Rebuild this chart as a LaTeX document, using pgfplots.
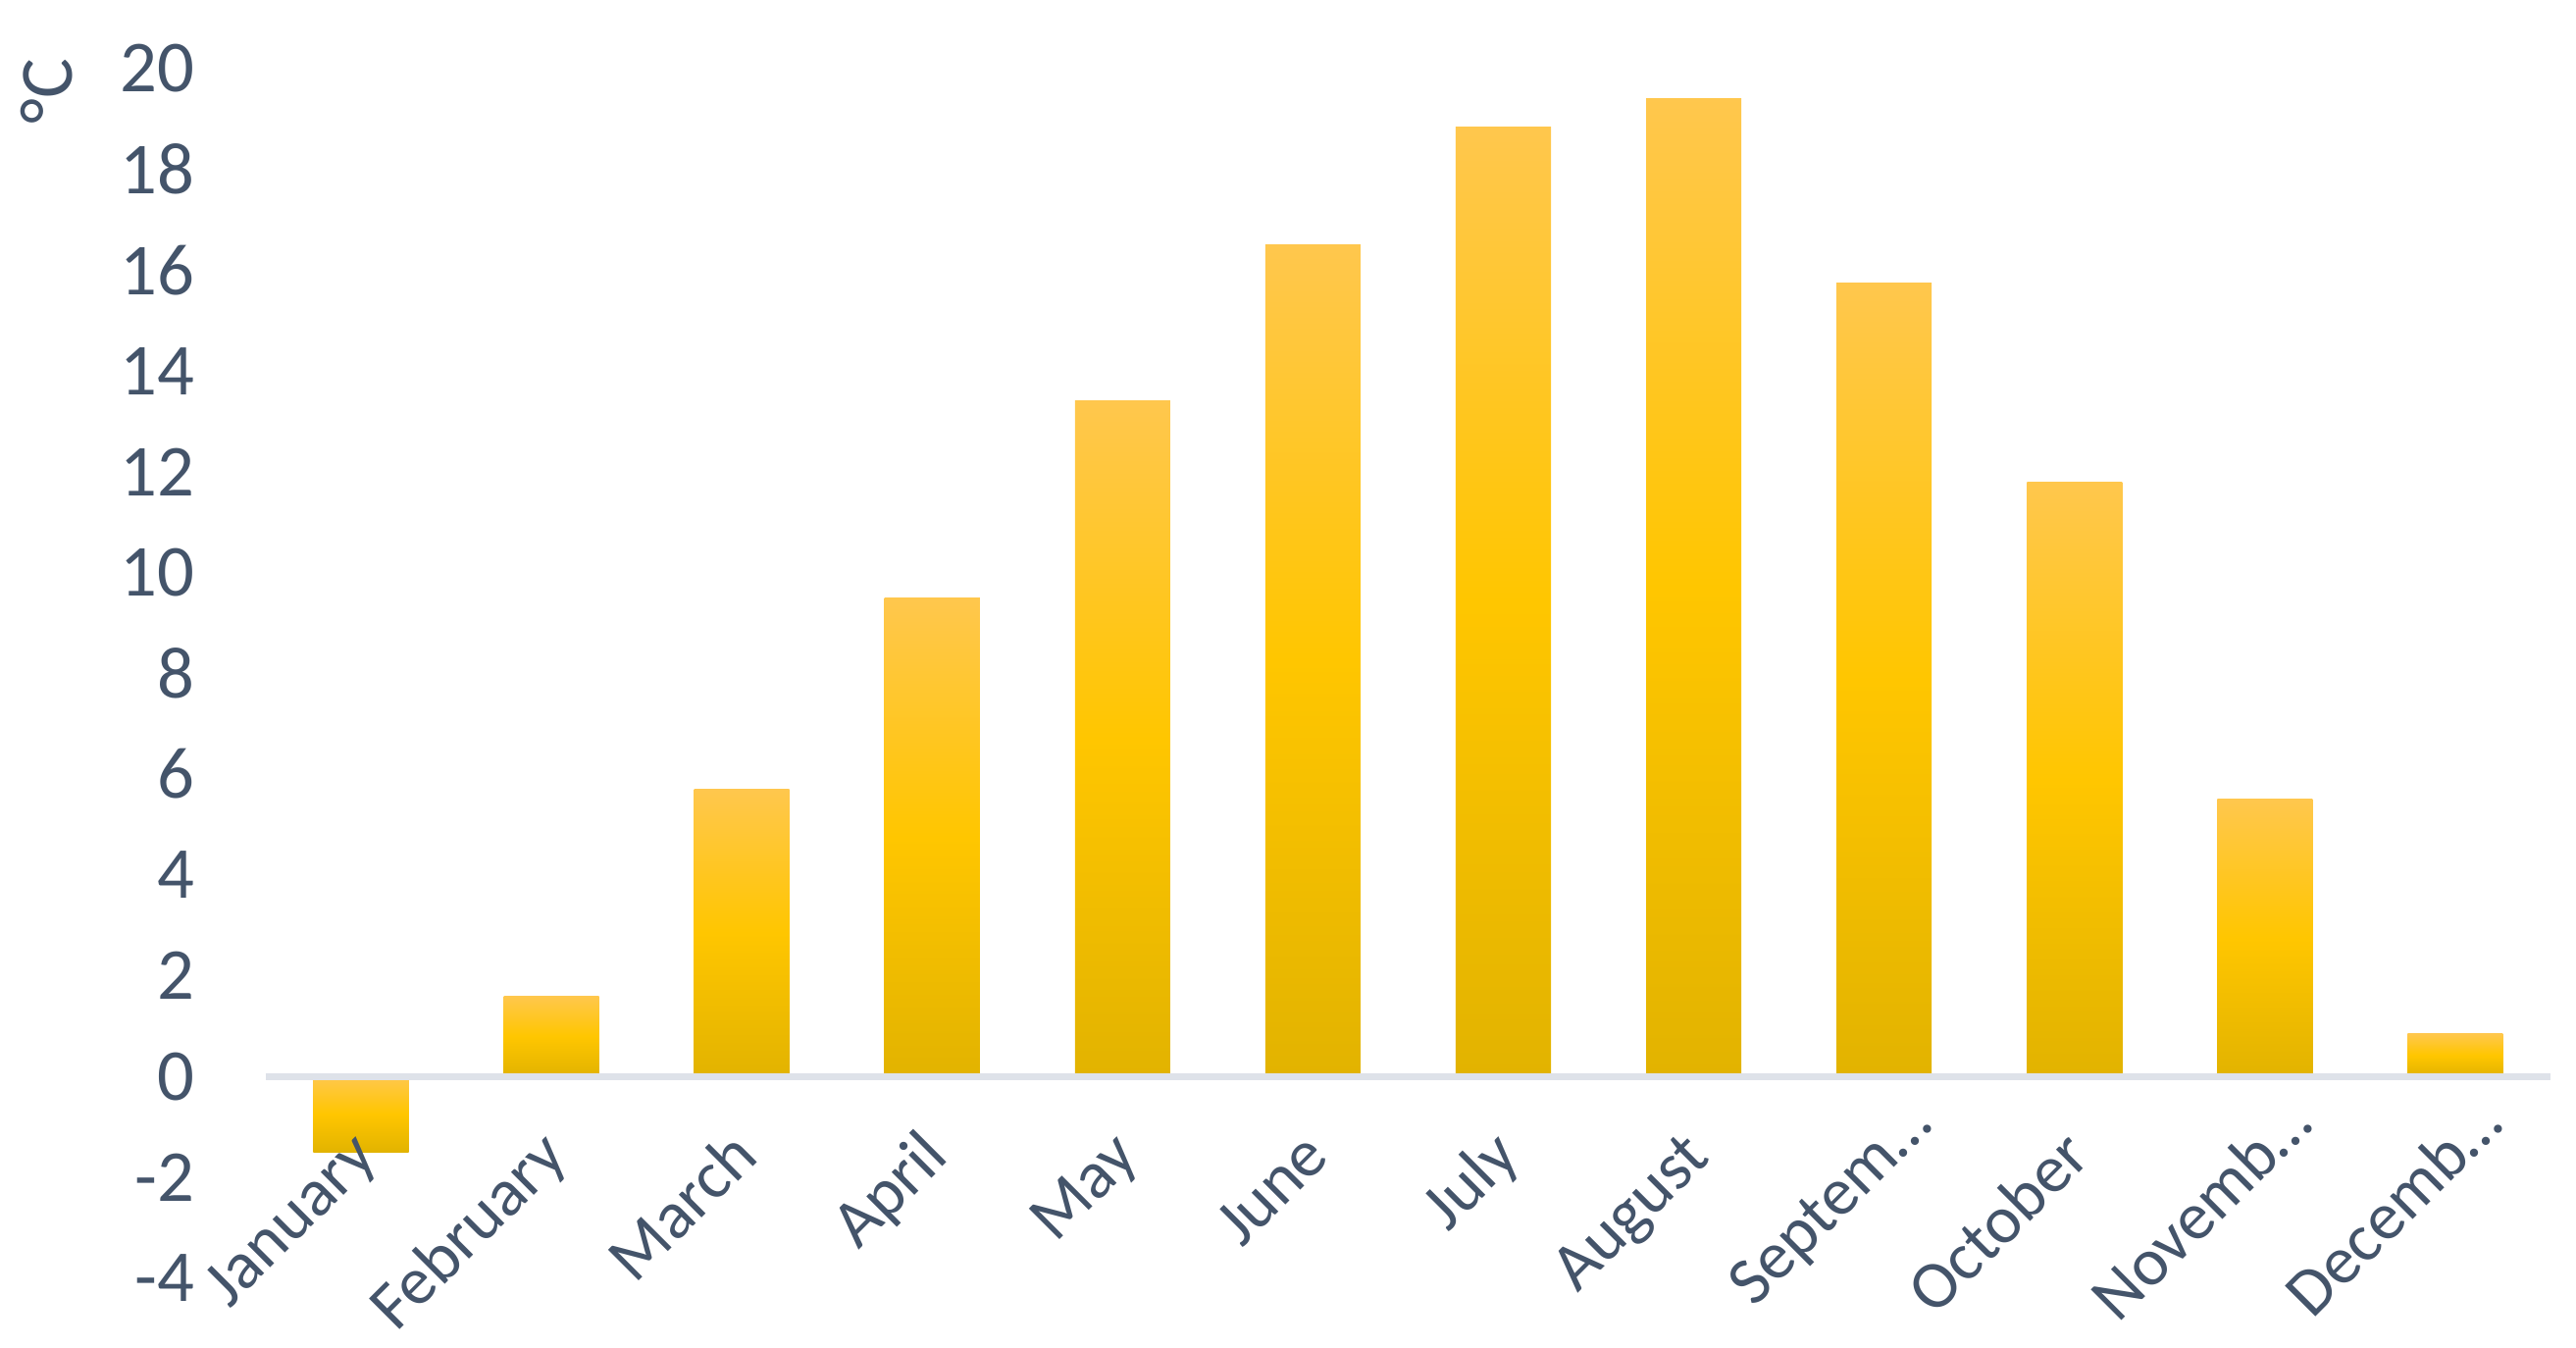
\documentclass[border=0pt]{standalone}
\usepackage{fontspec}
\setmainfont{Carlito}
\usepackage{pgfplots}
\pgfplotsset{compat=1.18}
\definecolor{txt}{HTML}{44546A}
\definecolor{zeroline}{HTML}{DEE2E9}
\definecolor{bartop}{HTML}{FFC74D}
\definecolor{barmid}{HTML}{FFC600}
\definecolor{barbot}{HTML}{E2B300}

% middle color has to come after top and bottom color
\pgfplotsset{
  monthbar/.style={ybar, bar width=0.5, bar shift=0pt, draw=none,
    top color=bartop, bottom color=barbot, middle color=barmid},
}

\begin{document}
\begin{tikzpicture}
\begin{axis}[
  scale only axis, width=359pt, height=190pt,
  xmin=-0.5, xmax=11.5, ymin=-4, ymax=20,
  axis x line*=middle, axis y line*=left,
  x axis line style={draw=zeroline, line width=1.1pt, -},
  y axis line style={draw=none},
  hide obscured x ticks=false, hide obscured y ticks=false,
  axis on top,
  xtick={0,...,11},
  xticklabels={January,February,March,April,May,June,July,August,
    Septem…\kern-7.2pt,October,Novemb…\kern-7.2pt,Decemb…\kern-7.2pt},
  ytick={-4,-2,...,20},
  yticklabels={-4,-2,0,2,4,6,8,10,12,14,16,18,20},
  major tick length=0pt,
  tick style={draw=none},
  every tick label/.append style={text=txt, inner sep=0pt},
  xticklabel style={font=\fontsize{10.6}{12}\selectfont,
    xshift=3pt, yshift=-12.9pt, rotate=45, anchor=base east},
  yticklabel style={font=\fontsize{11.5}{13}\selectfont,
    anchor=east, xshift=-11pt},
  clip=false,
]
% monthly mean temperature, one plot per bar so each bar gets its own gradient
\addplot[monthbar] coordinates {(0,-1.5)};
\addplot[monthbar] coordinates {(1,1.6)};
\addplot[monthbar] coordinates {(2,5.7)};
\addplot[monthbar] coordinates {(3,9.5)};
\addplot[monthbar] coordinates {(4,13.4)};
\addplot[monthbar] coordinates {(5,16.5)};
\addplot[monthbar] coordinates {(6,18.85)};
\addplot[monthbar] coordinates {(7,19.4)};
\addplot[monthbar] coordinates {(8,15.75)};
\addplot[monthbar] coordinates {(9,11.8)};
\addplot[monthbar] coordinates {(10,5.5)};
\addplot[monthbar] coordinates {(11,0.85)};
\node[rotate=90, anchor=base east, inner sep=0pt, text=txt,
  font=\fontsize{11.8}{14}\selectfont]
  at ([xshift=-30.5pt, yshift=1.85pt]rel axis cs:0,1) {°C};
\coordinate (bl) at (axis cs:-1.896,-5.382);
\coordinate (tr) at (axis cs:11.634,21.363);
\end{axis}
\pgfresetboundingbox
\path (bl) rectangle (tr);
\end{tikzpicture}
\end{document}
